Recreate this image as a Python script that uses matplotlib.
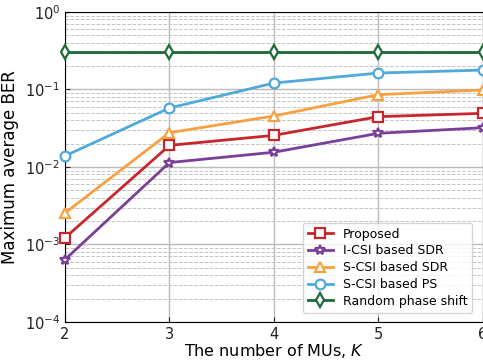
import matplotlib
matplotlib.use("Agg")
import matplotlib.pyplot as plt

K = [2, 3, 4, 5, 6]
proposed = [0.00122, 0.019, 0.0256, 0.0446, 0.0492]
icsi_sdr = [0.00064, 0.0114, 0.0155, 0.0272, 0.0321]
scsi_sdr = [0.00255, 0.0277, 0.0455, 0.0857, 0.0985]
scsi_ps = [0.0139, 0.0577, 0.121, 0.163, 0.178]
random_ps = [0.305, 0.305, 0.305, 0.305, 0.305]

labels = ["Proposed", "I-CSI based SDR", "S-CSI based SDR", "S-CSI based PS", "Random phase shift"]
series = [proposed, icsi_sdr, scsi_sdr, scsi_ps, random_ps]
colors = ["#c8262c", "#7a3f98", "#f9a040", "#4fa9db", "#1d6a38"]
markers = ["s", "*", "^", "o", "d"]
msizes = [7, 7, 7, 7, 7]

fig = plt.figure(figsize=(4.83, 3.63), dpi=100)
ax = fig.add_axes([0.1346, 0.113, 0.865, 0.854])
for y, lab, c, m, ms in zip(series, labels, colors, markers, msizes):
    ax.plot(K, y, color=c, marker=m, markersize=ms, markerfacecolor="white",
            markeredgewidth=1.6, linewidth=2, label=lab, clip_on=False, zorder=3)
ax.set_yscale("log")
ax.set_ylim(1e-4, 1)
ax.set_xlim(2, 6)
ax.set_xticks(K)
ax.grid(True, which="major", color="#bbbbbb", linestyle="-", linewidth=1)
ax.grid(True, which="minor", color="#c4c4c4", linestyle="--", linewidth=0.7)
ax.tick_params(which="both", direction="in", labelsize=10.5, colors="#222222")
ax.tick_params(which="minor", length=0)
ax.set_xlabel("The number of MUs, $K$", fontsize=11.5, labelpad=0)
ax.set_ylabel("Maximum average BER", fontsize=12, labelpad=4)
ax.legend(loc="lower right", fontsize=9, handlelength=2, borderpad=0.4,
          labelspacing=0.3, bbox_to_anchor=(0.99, 0.01))
fig.savefig("out.png", dpi=100)
